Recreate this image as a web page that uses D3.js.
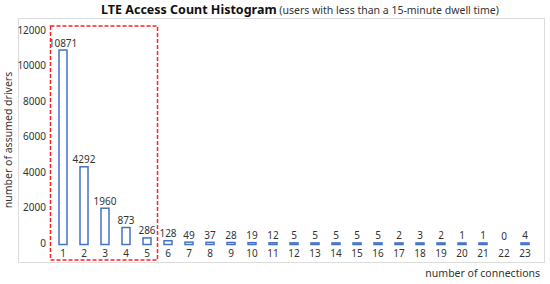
<!DOCTYPE html>
<html>
<head>
<meta charset="utf-8">
<script src="https://cdn.jsdelivr.net/npm/d3@7"></script>
<style>
  body { margin: 0; background: #fff; }
  text { font-family: "Noto Sans", "Open Sans", sans-serif; fill: #333; }
</style>
</head>
<body>
<div class="chart"></div>
<script>
// number of connections
var connections = [1, 2, 3, 4, 5, 6, 7, 8, 9, 10, 11, 12, 13, 14, 15, 16, 17, 18, 19, 20, 21, 22, 23];
// number of assumed drivers per connection count
var drivers = [10871, 4292, 1960, 873, 286, 128, 49, 37, 28, 19, 12, 5, 5, 5, 5, 5, 2, 3, 2, 1, 1, 0, 4];
var yTicks = [0, 2000, 4000, 6000, 8000, 10000, 12000];
// connections inside the highlighted box
var highlighted = [1, 5];

var width = 550, height = 284;

var svg = d3.select("div.chart").append("svg")
    .attr("width", width)
    .attr("height", height);

var data = connections.map(function (c, i) {
    return {c: c, v: drivers[i]};
});

// set the ranges
var x = d3.scaleBand()
    .domain(connections)
    .range([52.5, 535.5])
    .padding(0);

var y = d3.scaleLinear()
    .domain([0, 12000])
    .range([243, 30]);

var barW = 8;

// plot frame
svg.append("rect")
    .attr("x", 18.5).attr("y", 18.5)
    .attr("width", 526).attr("height", 244)
    .attr("fill", "#fff")
    .attr("stroke", "#dcdcdc")
    .attr("stroke-width", 1);

// title
var title = svg.append("text")
    .attr("x", 300).attr("y", 14)
    .attr("text-anchor", "middle");
title.append("tspan")
    .style("font-weight", "bold")
    .style("font-size", "12.5px")
    .style("fill", "#111")
    .text("LTE Access Count Histogram");
title.append("tspan")
    .style("font-size", "10.5px")
    .text(" (users with less than a 15-minute dwell time)");

// y axis
var yAxis = svg.append("g")
    .attr("transform", "translate(46,0)")
    .call(d3.axisLeft(y).tickValues(yTicks).tickFormat(d3.format("d")).tickSize(0).tickPadding(0));
yAxis.select(".domain").remove();
yAxis.selectAll("text")
    .style("font-size", "10px")
    .attr("fill", "#333");

// x axis
var xAxis = svg.append("g")
    .attr("transform", "translate(0,250)")
    .call(d3.axisBottom(x).tickSize(0).tickPadding(0));
xAxis.select(".domain").remove();
xAxis.selectAll("text")
    .style("font-size", "10px")
    .attr("fill", "#333");

// bars, drawn from slightly below zero like the original
var base = y(0) + 1.5;
svg.selectAll(".bar")
    .data(data.filter(function (d) { return d.v > 0; }))
    .enter().append("rect")
    .attr("class", "bar")
    .attr("x", function (d) { return x(d.c) + x.bandwidth() / 2 - barW / 2; })
    .attr("y", function (d) { return Math.min(y(d.v), y(0)); })
    .attr("width", barW)
    .attr("height", function (d) { return base - Math.min(y(d.v), y(0)); })
    .attr("fill", "#fff")
    .attr("stroke", "#4472c4")
    .attr("stroke-width", 1.5);

// value labels
svg.selectAll(".label")
    .data(data)
    .enter().append("text")
    .attr("class", "label")
    .attr("x", function (d) { return x(d.c) + x.bandwidth() / 2; })
    .attr("y", function (d) { return Math.min(y(d.v), y(0)) - 3.5; })
    .attr("text-anchor", "middle")
    .style("font-size", "10px")
    .text(function (d) { return d.v; });

// red dashed highlight box
svg.append("rect")
    .attr("x", x(highlighted[0]) - 2)
    .attr("y", y(12000) - 4)
    .attr("width", x(highlighted[1]) + x.bandwidth() - x(highlighted[0]) + 2)
    .attr("height", 260 - (y(12000) - 4))
    .attr("fill", "none")
    .attr("stroke", "#ff2020")
    .attr("stroke-width", 1.5)
    .attr("stroke-dasharray", "4,2");

// axis titles
svg.append("text")
    .attr("transform", "translate(12,140) rotate(-90)")
    .attr("text-anchor", "middle")
    .style("font-size", "10.5px")
    .text("number of assumed drivers");

svg.append("text")
    .attr("x", 540).attr("y", 277)
    .attr("text-anchor", "end")
    .style("font-size", "10.5px")
    .text("number of connections");
</script>
</body>
</html>
